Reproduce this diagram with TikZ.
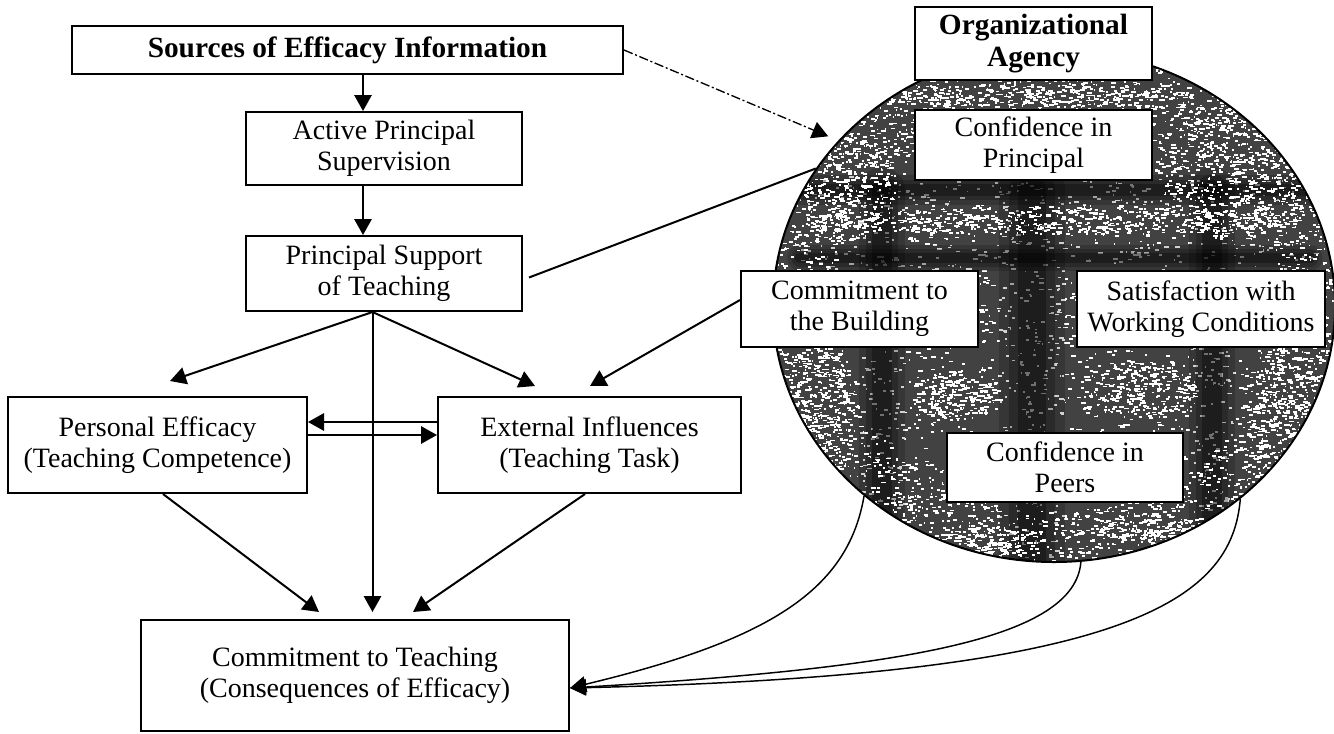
\documentclass[tikz,border=0pt]{standalone}
\usepackage{fontspec}
\setmainfont{Liberation Serif}
\usetikzlibrary{arrows.meta,calc,shapes.geometric}
% scatter #1 white grains over an elliptic patch centred at (#2,#3) with radii #4, #5
\newcommand\speckpatch[5]{%
  \foreach \k in {1,...,#1}{%
    \pgfmathsetmacro{\pa}{360*rnd}%
    \pgfmathsetmacro{\pr}{sqrt(rnd)}%
    \pgfmathsetmacro{\pw}{1+4*rnd}%
    \fill[white] ({#2+#4*\pr*cos(\pa)},{#3+#5*\pr*sin(\pa)}) rectangle ++(\pw,1.8);
  }}
% a soft dark band from #1 to #2, core width #3
\newcommand\darkband[3]{%
  \draw[black, opacity=.18, line cap=round, line width=#3*1.9pt] #1 -- #2;
  \draw[black, opacity=.22, line cap=round, line width=#3*1.3pt] #1 -- #2;
  \draw[black, opacity=.3, line cap=round, line width=#3*0.8pt] #1 -- #2;}
\begin{document}
\begin{tikzpicture}[x=0.75pt,y=-0.75pt,
  box/.style={draw=black, line width=1.5pt, fill=white, inner sep=0pt, align=center,
              font=\fontsize{21}{23}\selectfont},
  headbox/.style={box, font=\fontsize{22}{24}\selectfont\bfseries},
  arr/.style={line width=1.5pt, -{Triangle[length=12pt,width=13pt]}},
  link/.style={line width=1.5pt},
  curvearr/.style={line width=1.1pt, -{Triangle[length=12pt,width=12pt]}},
  dotdash/.style={line width=1pt, dash pattern=on 7pt off 2pt on 1.5pt off 2pt,
                  -{Triangle[length=12pt,width=13pt]}}
]
\useasboundingbox (0,0) rectangle (1334,733);

% grainy fill of the agency ellipse
\begin{scope}
  \clip (1054,306) ellipse [x radius=210.75pt, y radius=192pt];
  \fill[black!74] (1054,306) ellipse [x radius=210.75pt, y radius=192pt];
  \pgfmathsetseed{4242}
  % grain over the whole disc
  \speckpatch{2600}{1054}{306}{281}{256}
  % darker soft bands
  \darkband{(800,190)}{(1310,190)}{12}
  \darkband{(800,258)}{(1310,258)}{10}
  \darkband{(882,190)}{(882,560)}{18}
  \darkband{(1032,190)}{(1032,575)}{26}
  \darkband{(1212,190)}{(1212,555)}{18}
  % grain along the rim
  \foreach \k in {1,...,1800}{
    \pgfmathsetmacro{\pa}{360*rnd}
    \pgfmathsetmacro{\pr}{0.8+0.2*rnd}
    \pgfmathsetmacro{\pw}{1+4*rnd}
    \fill[white] ({1054+281*\pr*cos(\pa)},{306+256*\pr*sin(\pa)}) rectangle ++(\pw,1.8);
  }
  % lighter mottled areas
  \speckpatch{550}{1235}{170}{80}{70}
  \speckpatch{300}{845}{185}{50}{55}
  \speckpatch{550}{1055}{220}{250}{14}
  \speckpatch{250}{1040}{95}{150}{12}
  \speckpatch{350}{815}{420}{40}{80}
  \speckpatch{350}{1288}{420}{40}{80}
  \speckpatch{220}{955}{395}{45}{25}
  \speckpatch{260}{1140}{390}{55}{28}
  \speckpatch{150}{990}{540}{55}{14}
  \speckpatch{150}{1150}{528}{55}{14}
\end{scope}
\node[draw, ellipse, line width=1.5pt, inner sep=0pt,
      minimum width=421.5pt, minimum height=384pt] (agency) at (1054,306) {};

% boxes
\node[headbox, minimum width=413.25pt, minimum height=36pt] (src) at (347.5,50) {Sources of Efficacy Information};
\node[box, minimum width=207pt, minimum height=54.75pt] (aps) at (384,148.5) {Active Principal\\Supervision};
\node[box, minimum width=207pt, minimum height=56.25pt] (pst) at (384,273.5) {Principal Support\\of Teaching};
\node[box, minimum width=224.25pt, minimum height=72pt] (pe) at (157.5,445) {Personal Efficacy\\(Teaching Competence)};
\node[box, minimum width=227.25pt, minimum height=72pt] (ei) at (589.5,445) {External Influences\\(Teaching Task)};
\node[box, minimum width=321pt, minimum height=83.25pt] (ctt) at (355,675.5) {Commitment to Teaching\\(Consequences of Efficacy)};
\node[headbox, minimum width=177.75pt, minimum height=54.75pt] (org) at (1033.5,43.5) {Organizational\\Agency};
\node[box, minimum width=177.75pt, minimum height=52.5pt] (cip) at (1033.5,145) {Confidence in\\Principal};
\node[box, minimum width=177.75pt, minimum height=57pt] (ctb) at (859.5,309) {Commitment to\\the Building};
\node[box, minimum width=186pt, minimum height=57pt] (swc) at (1201,309) {Satisfaction with\\Working Conditions};
\node[box, minimum width=177pt, minimum height=51.75pt] (cpe) at (1065,467.5) {Confidence in\\Peers};

% connectors
\draw[arr] ($(src.south)+(15.5,0)$) -- ($(aps.north)+(-21,0)$);
\draw[arr] ($(aps.south)+(-21,0)$) -- ($(pst.north)+(-21,0)$);
\coordinate (pstfoot) at ($(pst.south)+(-11.5,0)$);
\draw[arr] (pstfoot) -- ($(pe.north)+(12.5,-15)$);
\draw[arr] (pstfoot) -- ($(ei.north)+(-54.5,-10)$);
\draw[arr] (pstfoot) -- ($(ctt.north)+(17.5,-7)$);
\draw[link] ($(pst.east)+(6,4)$) -- (agency.150);
\draw[dotdash] (src.east) -- ($(agency.141)+(-15,1)$);
\draw[arr] ($(ctb.west)+(0,-9)$) -- ($(ei.north)+(0.5,-10)$);
\draw[arr] ($(ei.west)+(0,-23)$) -- ($(pe.east)+(0,-23)$);
\draw[arr] ($(pe.east)+(0,-10)$) -- ($(ei.west)+(0,-10)$);
\draw[arr] ($(pe.south)+(5.5,0)$) -- ($(ctt.north)+(-36,-7)$);
\draw[arr] ($(ei.south)+(-4.5,0)$) -- ($(ctt.north)+(58,-7)$);
\draw[curvearr] (agency.225) .. controls (848,590) and (770,640) .. ($(ctt.east)+(0,12.5)$);
\draw[curvearr] (agency.276) .. controls (1075,640) and (900,668) .. ($(ctt.east)+(0,12.5)$);
\draw[curvearr] (agency.314) .. controls (1232,600) and (1130,675) .. ($(ctt.east)+(0,12.5)$);
\end{tikzpicture}
\end{document}
